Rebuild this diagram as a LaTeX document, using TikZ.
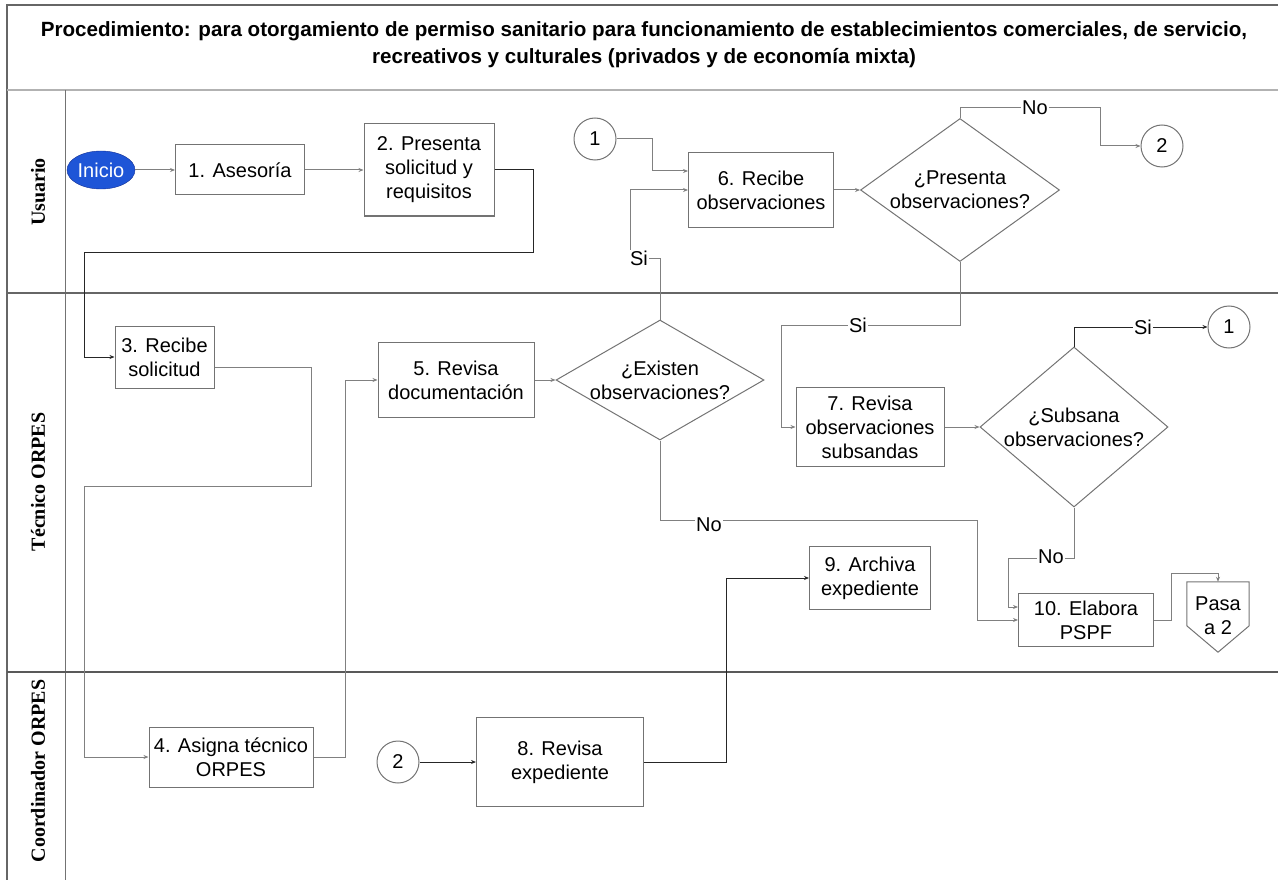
\documentclass[tikz,border=0pt]{standalone}
\usepackage{fontspec}
\setmainfont{Liberation Sans}
\newfontfamily\lanefont{Liberation Serif}
\usetikzlibrary{shapes.geometric,arrows.meta,calc}
\definecolor{iniblue}{RGB}{30,85,215}
\definecolor{iniedge}{RGB}{20,50,150}
\begin{document}
\begin{tikzpicture}[x=1pt,y=-1pt,
  every node/.style={font=\fontsize{20}{24}\selectfont},
  box/.style={draw=black!55, line width=1pt, fill=white, align=center, inner sep=0pt},
  circ/.style={circle, draw=black!55, line width=1pt, minimum size=42pt, inner sep=0pt},
  dia/.style={diamond, draw=black!55, line width=1pt, inner sep=0pt},
  conn/.style={draw=black!50, line width=1pt, -{Stealth[length=5pt,width=4pt]}},
  dconn/.style={conn, draw=black!85},
  lbl/.style={fill=white, inner sep=1pt},
  lane/.style={font=\lanefont\fontsize{20}{24}\selectfont\bfseries, rotate=90},
]
\useasboundingbox (0,0) rectangle (1278,880);
% frame and lanes
\draw[black!60, line width=1.2pt] (7,880) -- (7,5) -- (1278,5);
\draw[black!30, line width=1.5pt] (7,90) -- (1278,90);
\draw[black!55, line width=1pt] (65,90) -- (65,880);
\draw[black!60, line width=1.5pt] (7,293) -- (1278,293);
\draw[black!65, line width=2.5pt] (7,672) -- (1278,672);
\node[font=\fontsize{20.6}{27}\selectfont\bfseries, align=center] (title) at (644,45)
  {Procedimiento: para otorgamiento de permiso sanitario para funcionamiento de establecimientos comerciales, de servicio,\\recreativos y culturales (privados y de economía mixta)};
\node[lane] (lu) at (38,192) {Usuario};
\node[lane] (lt) at (38,482) {Técnico ORPES};
\node[lane] (lc) at (38,771) {Coordinador ORPES};
% nodes
\node[ellipse, draw=iniedge, fill=iniblue, text=white, minimum width=68pt, minimum height=38pt, inner sep=0pt] (inicio) at (101,170) {Inicio};
\node[box, minimum width=129pt, minimum height=50pt] (a1) at (240,170) {1. Asesoría};
\node[box, minimum width=130pt, minimum height=92pt] (a2) at (429,170) {2. Presenta\\solicitud y\\requisitos};
\node[box, minimum width=99pt, minimum height=62pt] (a3) at (164.5,357) {3. Recibe\\solicitud};
\node[box, minimum width=164pt, minimum height=60pt] (a4) at (231,757) {4. Asigna técnico\\ORPES};
\node[box, minimum width=156pt, minimum height=75pt] (a5) at (456,380) {5. Revisa\\documentación};
\node[box, minimum width=145pt, minimum height=74pt] (a6) at (761,190) {6. Recibe\\observaciones};
\node[box, minimum width=148pt, minimum height=79pt] (a7) at (870,427) {7. Revisa\\observaciones\\subsandas};
\node[box, minimum width=167pt, minimum height=89pt] (a8) at (560,762) {8. Revisa\\expediente};
\node[box, minimum width=121pt, minimum height=63pt] (a9) at (870,578) {9. Archiva\\expediente};
\node[box, minimum width=135pt, minimum height=53pt] (a10) at (1086,620) {10. Elabora\\PSPF};
\node[dia, minimum width=208pt, minimum height=120pt, label={[align=center]center:¿Existen\\observaciones?}] (dE) at (660,380) {};
\node[dia, minimum width=199pt, minimum height=143pt, label={[align=center]center:¿Presenta\\observaciones?}] (dP) at (960,190) {};
\node[dia, minimum width=188pt, minimum height=160pt, label={[align=center]center:¿Subsana\\observaciones?}] (dS) at (1074,427) {};
\node[circ] (c1a) at (595,139) {1};
\node[circ] (c2a) at (1162,146) {2};
\node[circ] (c1b) at (1229,327) {1};
\node[circ] (c2b) at (398,762) {2};
\node[inner sep=0pt, minimum width=62pt, minimum height=68pt, align=center] (pasa) at (1218,616) {Pasa\\a 2};
\draw[black!55, line width=1pt] (pasa.north west) -- (pasa.north east) -- ($(pasa.north east)+(0,44)$) -- ($(pasa.south)+(0,2)$) -- ($(pasa.north west)+(0,44)$) -- cycle;
\coordinate (pasatop) at (pasa.north);
% connectors
\draw[conn] (inicio) -- (a1);
\draw[conn] (a1) -- (a2);
\draw[dconn] (a2.east) -- ++(39,0) |- (84,252) |- (a3.west);
\draw[conn] ([yshift=-10pt]a3.east) -| (311,486) -- (84,486) |- (a4.west);
\draw[conn] (a4.east) -- (345,757) |- (a5.west);
\draw[conn] (a5) -- (dE);
\draw[conn] (dE.north) |- (630,258) |- (a6.west);
\node[lbl] (siE) at (639,258) {Si};
\draw[conn] (c1a.east) -- (652,139) |- ([yshift=19pt]a6.west);
\draw[conn] (a6) -- (dP);
\draw[conn] (dP.north) |- (1100,108) |- (c2a.west);
\node[lbl] (noP) at (1035,108) {No};
\draw[conn] (dP.south) |- (781,325) |- (a7.west);
\node[lbl] (siP) at (858,325) {Si};
\draw[conn] (a7) -- (dS);
\draw[dconn] (dS.north) |- (c1b.west);
\node[lbl] (siS) at (1143,327) {Si};
\draw[conn] (dS.south) |- (1008,558) |- ([yshift=13pt]a10.west);
\node[lbl] (noS) at (1051,557) {No};
\draw[conn] (dE.south) |- (977,520) |- (a10.west);
\node[lbl] (noE) at (709,525) {No};
\draw[conn] (a10.east) -- (1171,620) |- (1218,573) -- (pasatop);
\draw[dconn] (c2b) -- (a8);
\draw[dconn] (a8.east) -- (726,762) |- (a9.west);
\end{tikzpicture}
\end{document}
